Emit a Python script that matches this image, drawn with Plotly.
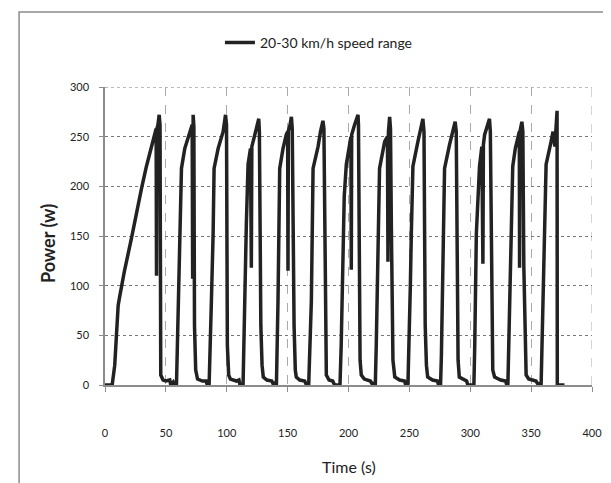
import plotly.graph_objects as go

# Power (W) vs time (s)
time_s = [
    0, 3, 5.9, 8, 10.8, 12.2, 16, 21.8, 26, 30, 34, 38.2, 40.9, 42.0, 42.3, 42.6, 43.5, 44.5, 45.2, 45.8, 47.7, 50, 53.2, 54, 56, 57, 58.7,
    59.3, 60.1, 61.4, 62.8, 65.5, 69.6, 71.6, 72.0, 72.3, 72.4, 73.0, 73.5, 74.5, 76, 80, 83, 84, 85.5,
    86.3, 87.4, 88.8, 89.6, 92.9, 97, 99, 99.8, 100.5, 101.6, 103, 108, 110, 110.9, 113.4,
    114.1, 114.8, 116.1, 117.5, 119.5, 120.2, 120.6, 121.6, 124, 126.3, 126.8, 127.1, 128, 129, 130, 133, 137, 138.5, 139.8, 140.8,
    141.4, 142.1, 143.5, 146.2, 148.9, 150.0, 150.3, 150.6, 152, 153.1, 153.8, 154.4, 155.3, 156.3, 157.1, 160, 164, 165.5, 166.7, 167.3,
    168, 169.5, 170.9, 175, 177, 179, 179.8, 180.4, 181, 181.5, 181.8, 184, 187, 188.6, 193,
    194, 195.5, 196.5, 198.2, 200, 202, 202.3, 202.6, 205, 207.8, 208.2, 208.6, 209.5, 210.5, 213, 218, 220, 221.4, 222,
    222.8, 224.2, 225.5, 229.7, 232, 232.4, 232.8, 233.8, 234.5, 235.2, 235.7, 236.5, 238, 242, 246, 247, 248.8,
    249.5, 250.8, 251.6, 252.9, 257, 261.1, 262, 262.5, 263, 264, 265, 269, 273, 274, 275.6,
    276.3, 277.5, 278.9, 283, 287.6, 288.5, 289, 289.3, 290, 291, 295, 297, 298, 303,
    303.7, 305, 307.6, 309.5, 310.4, 310.8, 311.8, 314, 315.8, 316.5, 317.2, 317.8, 318.5, 320, 325, 329, 330, 330.9,
    331.6, 333, 334.9, 337, 339, 340.3, 340.5, 340.8, 342.4, 343.2, 344, 345, 345.9, 348, 354, 356, 357.7, 358.2,
    358.9, 360.4, 362.3, 366.4, 368, 369.5, 370.5, 371.3, 371.5, 377.4,
]
power_w = [
    0, 0, 0, 20, 80, 90, 115, 148, 175, 198, 220, 241, 255, 258, 110, 258, 262, 272, 262, 10, 5, 4, 5, 0, 3, 0, 0,
    30, 85, 162, 218, 238, 255, 262, 107, 262, 272, 260, 60, 15, 6, 4, 4, 0, 0,
    30, 85, 152, 218, 238, 255, 272, 262, 40, 10, 6, 4, 5, 0, 0,
    30, 85, 162, 222, 238, 118, 240, 245, 258, 268, 255, 150, 60, 20, 8, 5, 4, 0, 3, 0,
    30, 85, 218, 238, 252, 255, 115, 256, 262, 270, 258, 150, 60, 15, 8, 5, 4, 0, 2, 0,
    30, 85, 218, 240, 255, 266, 258, 200, 100, 30, 10, 5, 4, 0, 0,
    40, 144, 190, 222, 235, 250, 116, 252, 262, 272, 262, 100, 25, 10, 6, 4, 0, 2, 0,
    40, 134, 218, 245, 250, 124, 255, 270, 258, 160, 80, 25, 8, 5, 4, 0, 0,
    30, 100, 152, 220, 245, 268, 255, 150, 60, 20, 8, 5, 4, 0, 0,
    30, 120, 218, 242, 265, 255, 150, 70, 25, 8, 5, 4, 0, 0,
    40, 152, 220, 240, 122, 242, 252, 260, 268, 255, 140, 50, 15, 8, 5, 4, 0, 0,
    40, 152, 220, 238, 250, 255, 118, 255, 265, 255, 120, 40, 10, 6, 4, 0, 2, 0,
    40, 152, 222, 245, 255, 240, 262, 276, 0, 0,
]

series_name = "20-30 km/h speed range"
x_ticks = [0, 50, 100, 150, 200, 250, 300, 350, 400]
y_ticks = [0, 50, 100, 150, 200, 250, 300]
x_title = "Time (s)"
y_title = "Power (w)"

FONT = "Lato, Open Sans, sans-serif"

fig = go.Figure()
fig.add_trace(go.Scatter(
    x=time_s, y=power_w, mode="lines", name=series_name,
    line=dict(color="#222222", width=3.5),
))

fig.update_layout(
    width=611, height=483,
    margin=dict(l=97, r=27, t=79, b=106),
    paper_bgcolor="white", plot_bgcolor="white",
    font=dict(family=FONT, color="#222", size=11),
    showlegend=True,
    legend=dict(
        orientation="h", x=0.236, y=1.148, xanchor="left", yanchor="middle",
        font=dict(family=FONT, size=14, color="#222"),
        bgcolor="rgba(0,0,0,0)",
    ),
    xaxis=dict(
        range=[0, 400], tickvals=x_ticks, ticktext=[str(v) for v in x_ticks],
        showgrid=True, gridcolor="#aaaaaa", griddash="dash", gridwidth=1,
        showline=True, linecolor="#8c8c8c", linewidth=1.5,
        ticks="outside", ticklen=5, tickcolor="#8c8c8c",
        ticklabelstandoff=32, zeroline=False,
        tickfont=dict(family=FONT, size=11, color="#222"),
    ),
    yaxis=dict(
        range=[0, 300], tickvals=y_ticks, ticktext=[str(v) for v in y_ticks],
        showgrid=True, gridcolor="#777777", griddash="dot", gridwidth=1,
        showline=True, linecolor="#8c8c8c", linewidth=1.5,
        ticks="outside", ticklen=4, tickcolor="#8c8c8c",
        ticklabelstandoff=8, zeroline=False,
        tickfont=dict(family=FONT, size=11, color="#222"),
    ),
    annotations=[
        dict(text=x_title, xref="paper", yref="paper", x=0.5, y=(377 - 458) / 298,
             showarrow=False, xanchor="center", yanchor="middle",
             font=dict(family=FONT, size=16, color="#222")),
        dict(text="<b>" + y_title + "</b>", xref="paper", yref="paper",
             x=(40 - 97) / 487.4, y=0.473, textangle=-90,
             showarrow=False, xanchor="center", yanchor="middle",
             font=dict(family=FONT, size=18, color="#222")),
    ],
    shapes=[
        dict(type="rect", xref="paper", yref="paper",
             x0=(11 - 97) / 487.4, x1=(608 - 97) / 487.4,
             y0=(377 - 490) / 298, y1=(377 - 4) / 298,
             line=dict(color="#8c8c8c", width=1.5), fillcolor="rgba(0,0,0,0)", layer="below"),
        dict(type="line", xref="x", yref="y", x0=400, x1=400, y0=0, y1=300,
             line=dict(color="#aaaaaa", width=1, dash="dash"), layer="below"),
        dict(type="line", xref="x", yref="y", x0=0, x1=400, y0=300, y1=300,
             line=dict(color="#777777", width=1, dash="dot"), layer="below"),
    ],
)

fig.write_html("out.html")
